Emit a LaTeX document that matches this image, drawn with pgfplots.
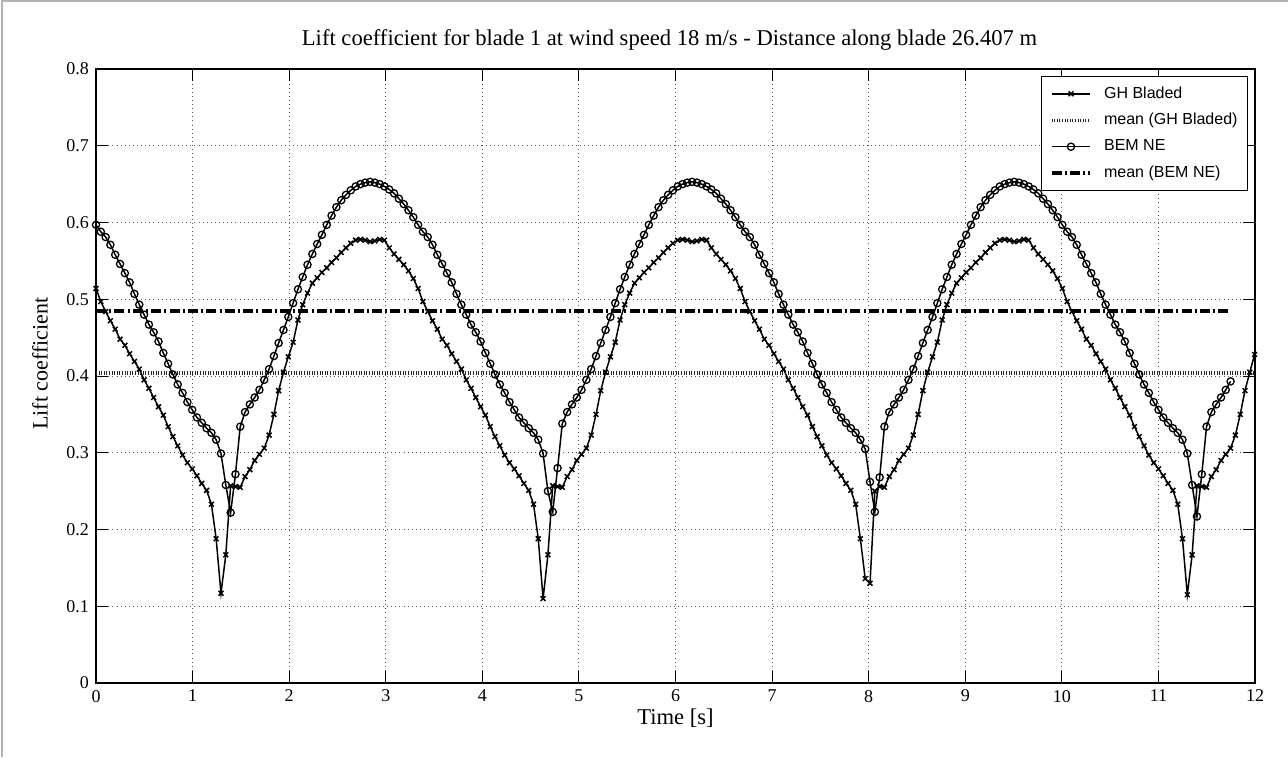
\documentclass[border=0pt]{standalone}
\usepackage{fontspec}
\setmainfont{Liberation Serif}
\newfontfamily\legfont{Liberation Sans}
\usepackage{pgfplots}
\usepackage{pgfplotstable}
\pgfplotsset{compat=1.18}

% GH Bladed, blade 1, r = 26.407 m
\pgfplotstableread{
t cl
0.000 0.514
0.050 0.497
0.100 0.484
0.149 0.472
0.199 0.461
0.249 0.448
0.299 0.440
0.348 0.429
0.398 0.419
0.448 0.409
0.498 0.395
0.548 0.384
0.597 0.372
0.647 0.360
0.697 0.349
0.747 0.334
0.796 0.321
0.846 0.309
0.896 0.297
0.946 0.287
0.996 0.279
1.045 0.270
1.095 0.260
1.145 0.251
1.195 0.233
1.244 0.188
1.294 0.117
1.344 0.167
1.394 0.257
1.444 0.256
1.493 0.255
1.543 0.269
1.593 0.278
1.643 0.290
1.692 0.298
1.742 0.306
1.792 0.323
1.842 0.350
1.891 0.381
1.941 0.405
1.991 0.425
2.041 0.444
2.091 0.473
2.140 0.493
2.190 0.508
2.240 0.521
2.290 0.528
2.339 0.535
2.389 0.541
2.439 0.548
2.489 0.554
2.539 0.561
2.588 0.567
2.638 0.573
2.688 0.577
2.738 0.578
2.787 0.577
2.837 0.575
2.887 0.576
2.937 0.578
2.987 0.577
3.036 0.567
3.086 0.559
3.136 0.552
3.186 0.545
3.235 0.537
3.285 0.527
3.335 0.514
3.385 0.497
3.435 0.484
3.484 0.472
3.534 0.461
3.584 0.448
3.634 0.440
3.683 0.429
3.733 0.419
3.783 0.409
3.833 0.395
3.883 0.384
3.932 0.372
3.982 0.360
4.032 0.349
4.082 0.334
4.131 0.321
4.181 0.309
4.231 0.297
4.281 0.287
4.331 0.279
4.380 0.270
4.430 0.260
4.480 0.251
4.530 0.233
4.579 0.188
4.629 0.110
4.679 0.167
4.729 0.257
4.779 0.256
4.828 0.255
4.878 0.269
4.928 0.278
4.978 0.290
5.027 0.298
5.077 0.306
5.127 0.323
5.177 0.350
5.226 0.381
5.276 0.405
5.326 0.425
5.376 0.444
5.426 0.473
5.475 0.493
5.525 0.508
5.575 0.521
5.625 0.528
5.674 0.535
5.724 0.541
5.774 0.548
5.824 0.554
5.874 0.561
5.923 0.567
5.973 0.573
6.023 0.577
6.073 0.578
6.122 0.577
6.172 0.575
6.222 0.576
6.272 0.578
6.322 0.577
6.371 0.567
6.421 0.559
6.471 0.552
6.521 0.545
6.570 0.537
6.620 0.527
6.670 0.514
6.720 0.497
6.770 0.484
6.819 0.472
6.869 0.461
6.919 0.448
6.969 0.440
7.018 0.429
7.068 0.419
7.118 0.409
7.168 0.395
7.218 0.384
7.267 0.372
7.317 0.360
7.367 0.349
7.417 0.334
7.466 0.321
7.516 0.309
7.566 0.297
7.616 0.287
7.666 0.279
7.715 0.270
7.765 0.260
7.815 0.251
7.865 0.233
7.914 0.188
7.964 0.136
8.014 0.130
8.064 0.250
8.114 0.256
8.163 0.255
8.213 0.269
8.263 0.278
8.313 0.290
8.362 0.298
8.412 0.306
8.462 0.323
8.512 0.350
8.561 0.381
8.611 0.405
8.661 0.425
8.711 0.444
8.761 0.473
8.810 0.493
8.860 0.508
8.910 0.521
8.960 0.528
9.009 0.535
9.059 0.541
9.109 0.548
9.159 0.554
9.209 0.561
9.258 0.567
9.308 0.573
9.358 0.577
9.408 0.578
9.457 0.577
9.507 0.575
9.557 0.576
9.607 0.578
9.657 0.577
9.706 0.567
9.756 0.559
9.806 0.552
9.856 0.545
9.905 0.537
9.955 0.527
10.005 0.514
10.055 0.497
10.105 0.484
10.154 0.472
10.204 0.461
10.254 0.448
10.304 0.440
10.353 0.429
10.403 0.419
10.453 0.409
10.503 0.395
10.553 0.384
10.602 0.372
10.652 0.360
10.702 0.349
10.752 0.334
10.801 0.321
10.851 0.309
10.901 0.297
10.951 0.287
11.001 0.279
11.050 0.270
11.100 0.260
11.150 0.251
11.200 0.233
11.249 0.188
11.299 0.115
11.349 0.167
11.399 0.257
11.449 0.256
11.498 0.255
11.548 0.269
11.598 0.278
11.648 0.290
11.697 0.298
11.747 0.306
11.797 0.323
11.847 0.350
11.896 0.381
11.946 0.405
11.996 0.428
}\ghdata

% BEM NE, blade 1, r = 26.407 m
\pgfplotstableread{
t cl
0.000 0.597
0.050 0.588
0.100 0.581
0.149 0.571
0.199 0.558
0.249 0.546
0.299 0.534
0.348 0.522
0.398 0.507
0.448 0.493
0.498 0.480
0.548 0.467
0.597 0.457
0.647 0.445
0.697 0.430
0.747 0.416
0.796 0.402
0.846 0.389
0.896 0.378
0.946 0.366
0.996 0.356
1.045 0.346
1.095 0.339
1.145 0.332
1.195 0.326
1.244 0.317
1.294 0.299
1.344 0.258
1.394 0.222
1.444 0.272
1.493 0.334
1.543 0.353
1.593 0.363
1.643 0.372
1.692 0.382
1.742 0.395
1.792 0.409
1.842 0.426
1.891 0.443
1.941 0.460
1.991 0.477
2.041 0.495
2.091 0.513
2.140 0.529
2.190 0.545
2.240 0.559
2.290 0.572
2.339 0.584
2.389 0.597
2.439 0.609
2.489 0.620
2.539 0.629
2.588 0.636
2.638 0.642
2.688 0.647
2.738 0.650
2.787 0.652
2.837 0.653
2.887 0.652
2.937 0.650
2.987 0.647
3.036 0.643
3.086 0.638
3.136 0.631
3.186 0.624
3.235 0.616
3.285 0.607
3.335 0.597
3.385 0.588
3.435 0.581
3.484 0.571
3.534 0.558
3.584 0.546
3.634 0.534
3.683 0.522
3.733 0.507
3.783 0.493
3.833 0.480
3.883 0.467
3.932 0.457
3.982 0.445
4.032 0.430
4.082 0.416
4.131 0.402
4.181 0.389
4.231 0.378
4.281 0.366
4.331 0.356
4.380 0.346
4.430 0.339
4.480 0.332
4.530 0.326
4.579 0.317
4.629 0.299
4.679 0.250
4.729 0.223
4.779 0.280
4.828 0.338
4.878 0.353
4.928 0.363
4.978 0.372
5.027 0.382
5.077 0.395
5.127 0.409
5.177 0.426
5.226 0.443
5.276 0.460
5.326 0.477
5.376 0.495
5.426 0.513
5.475 0.529
5.525 0.545
5.575 0.559
5.625 0.572
5.674 0.584
5.724 0.597
5.774 0.609
5.824 0.620
5.874 0.629
5.923 0.636
5.973 0.642
6.023 0.647
6.073 0.650
6.122 0.652
6.172 0.653
6.222 0.652
6.272 0.650
6.322 0.647
6.371 0.643
6.421 0.638
6.471 0.631
6.521 0.624
6.570 0.616
6.620 0.607
6.670 0.597
6.720 0.588
6.770 0.581
6.819 0.571
6.869 0.558
6.919 0.546
6.969 0.534
7.018 0.522
7.068 0.507
7.118 0.493
7.168 0.480
7.218 0.467
7.267 0.457
7.317 0.445
7.367 0.430
7.417 0.416
7.466 0.402
7.516 0.389
7.566 0.378
7.616 0.366
7.666 0.356
7.715 0.346
7.765 0.339
7.815 0.332
7.865 0.326
7.914 0.317
7.964 0.305
8.014 0.262
8.064 0.223
8.114 0.268
8.163 0.334
8.213 0.353
8.263 0.363
8.313 0.372
8.362 0.382
8.412 0.395
8.462 0.409
8.512 0.426
8.561 0.443
8.611 0.460
8.661 0.477
8.711 0.495
8.761 0.513
8.810 0.529
8.860 0.545
8.910 0.559
8.960 0.572
9.009 0.584
9.059 0.597
9.109 0.609
9.159 0.620
9.209 0.629
9.258 0.636
9.308 0.642
9.358 0.647
9.408 0.650
9.457 0.652
9.507 0.653
9.557 0.652
9.607 0.650
9.657 0.647
9.706 0.643
9.756 0.638
9.806 0.631
9.856 0.624
9.905 0.616
9.955 0.607
10.005 0.597
10.055 0.588
10.105 0.581
10.154 0.571
10.204 0.558
10.254 0.546
10.304 0.534
10.353 0.522
10.403 0.507
10.453 0.493
10.503 0.480
10.553 0.467
10.602 0.457
10.652 0.445
10.702 0.430
10.752 0.416
10.801 0.402
10.851 0.389
10.901 0.378
10.951 0.366
11.001 0.356
11.050 0.346
11.100 0.339
11.150 0.332
11.200 0.326
11.249 0.317
11.299 0.299
11.349 0.258
11.399 0.217
11.449 0.272
11.498 0.334
11.548 0.353
11.598 0.363
11.648 0.372
11.697 0.382
11.747 0.393
}\bemdata

\begin{document}
\begin{tikzpicture}
\path[use as bounding box] (-48pt,-37pt) rectangle (596pt,341.5pt);
\draw[black!30, line width=0.7pt] (-47pt,-37pt) -- (-47pt,341pt) -- (596pt,341pt);
\begin{axis}[
  at={(0pt,0pt)}, anchor=south west,
  scale only axis, width=579.5pt, height=307pt,
  xmin=0, xmax=12, ymin=0, ymax=0.8,
  xtick={0,1,2,3,4,5,6,7,8,9,10,11,12},
  ytick={0,0.1,0.2,0.3,0.4,0.5,0.6,0.7,0.8},
  yticklabel style={/pgf/number format/fixed, /pgf/number format/precision=1},
  /pgf/number format/assume math mode=true,
  ticklabel style={font=\fontsize{9}{10}\selectfont},
  tickpos=both, tick align=inside, major tick length=6pt,
  tick style={black, line width=0.5pt},
  axis line style={black, line width=0.6pt},
  grid=major,
  grid style={black!65, line width=0.45pt, dash pattern=on 0.45pt off 1.6pt},
  title={Lift coefficient for blade 1 at wind speed 18 m/s - Distance along blade 26.407 m},
  title style={font=\fontsize{11.3}{13}\selectfont, at={(0.5,1)}, anchor=base, yshift=6pt, xshift=-3pt},
  xlabel={Time [s]},
  xlabel style={font=\fontsize{11.3}{13}\selectfont, at={(axis description cs:0.5,-0.057)}, anchor=center},
  ylabel={Lift coefficient},
  ylabel style={font=\fontsize{11}{13}\selectfont, at={(axis description cs:-0.0483,0.52)}, anchor=center},
  legend style={at={(1,1)}, anchor=north east, xshift=-3.5pt, yshift=-3.5pt,
    font=\legfont\fontsize{8}{9.5}\selectfont, draw=black, line width=0.5pt,
    fill=white, row sep=2pt, inner sep=3pt},
  legend cell align=left,
  legend image code/.code={\path (-0.05cm,0cm) (0.82cm,0cm);\draw[mark repeat=2,mark phase=2,#1] plot coordinates {(0cm,0cm) (0.34cm,0cm) (0.68cm,0cm)};},
]
\addplot[black, line width=0.75pt, mark=x, mark size=1.7pt, mark options={solid}] table[x=t, y=cl] {\ghdata};
\addlegendentry{GH Bladed}
\addplot[black!85, line width=1.8pt, dash pattern=on 0.5pt off 0.8pt] coordinates {(0,0.404) (11.996,0.404)};
\addlegendentry{mean (GH Bladed)}
\addplot[black, line width=0.75pt, mark=o, mark size=1.8pt, mark options={solid, line width=0.65pt}] table[x=t, y=cl] {\bemdata};
\addlegendentry{BEM NE}
\addplot[black, line width=1.8pt, dash pattern=on 5pt off 1.6pt on 1pt off 1.6pt] coordinates {(0,0.485) (11.747,0.485)};
\addlegendentry{mean (BEM NE)}
\end{axis}
\end{tikzpicture}
\end{document}
